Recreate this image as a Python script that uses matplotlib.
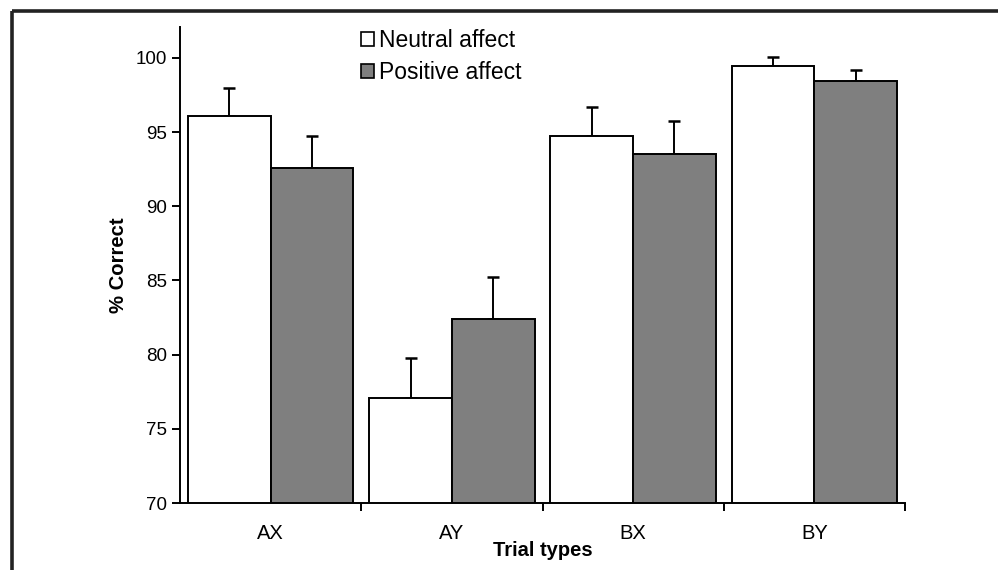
import matplotlib
matplotlib.use("Agg")
import matplotlib.pyplot as plt
from matplotlib.patches import Patch
from matplotlib.lines import Line2D
import numpy as np

plt.rcParams['font.family'] = ['Liberation Sans', 'DejaVu Sans']

categories = ["AX", "AY", "BX", "BY"]
neutral = [96.05, 77.1, 94.75, 99.45]
neutral_err = [1.95, 2.65, 1.95, 0.6]
positive = [92.6, 82.4, 93.55, 98.45]
positive_err = [2.15, 2.85, 2.2, 0.7]
series_labels = ["Neutral affect", "Positive affect"]

W, H = 998, 570
fig = plt.figure(figsize=(W / 100, H / 100), dpi=100)
ax = fig.add_axes([180 / W, 1 - 503 / H, (905 - 180) / W, (503 - 27) / H])

x = np.arange(len(categories))
bw = 0.456
lw = 1.4
ax.bar(x - bw / 2, neutral, bw, color="white", edgecolor="black", linewidth=lw, zorder=2)
ax.bar(x + bw / 2, positive, bw, color="#7f7f7f", edgecolor="black", linewidth=lw, zorder=2)
zeros = [0] * len(categories)
ax.errorbar(x - bw / 2, neutral, yerr=[zeros, neutral_err], fmt="none", ecolor="black",
            elinewidth=1.4, capsize=4.3, capthick=1.8, zorder=1)
ax.errorbar(x + bw / 2, positive, yerr=[zeros, positive_err], fmt="none", ecolor="black",
            elinewidth=1.4, capsize=4.3, capthick=1.8, zorder=1)

ax.set_xlim(-0.5, 3.5)
ax.set_ylim(70, 102.08)
ax.set_yticks([70, 75, 80, 85, 90, 95, 100])
ax.set_xticks(x)
ax.set_xticklabels(categories)
ax.set_xticks([0.5, 1.5, 2.5, 3.5], minor=True)
ax.tick_params(axis="x", which="major", length=0, pad=15, labelsize=14.5)
ax.tick_params(axis="x", which="minor", length=5.5, width=1.4, direction="out")
ax.tick_params(axis="y", length=5.5, width=1.4, direction="out", pad=4, labelsize=13.5)

for s in ["top", "right"]:
    ax.spines[s].set_visible(False)
for s in ["left", "bottom"]:
    ax.spines[s].set_linewidth(1.4)

ax.set_ylabel("% Correct", fontsize=14.6, fontweight="bold")
ax.yaxis.set_label_coords((128 - 180) / (905 - 180), 0.5)
ax.set_xlabel("Trial types", fontsize=14.5, fontweight="bold")
ax.xaxis.set_label_coords(0.5, -(550 - 503) / (503 - 27))
ax.xaxis.label.set_va("center")

handles = [Patch(facecolor="white", edgecolor="black", linewidth=1.2),
           Patch(facecolor="#7f7f7f", edgecolor="black", linewidth=1.2)]
fig.legend(handles, series_labels, loc="upper left", bbox_to_anchor=(361 / W, 1 - 29 / H),
           frameon=False, fontsize=16.5, handlelength=0.57, handleheight=0.57,
           handletextpad=0.2, labelspacing=0.38, borderpad=0, borderaxespad=0)

# figure border (top and left)
fig.add_artist(Line2D([12 / W, 12 / W], [0, 1 - 11 / H], color="#222222", linewidth=2.6,
                      transform=fig.transFigure, solid_capstyle="butt"))
fig.add_artist(Line2D([12 / W, 1], [1 - 11 / H, 1 - 11 / H], color="#222222", linewidth=2.6,
                      transform=fig.transFigure, solid_capstyle="butt"))

fig.savefig("out.png", dpi=100)
